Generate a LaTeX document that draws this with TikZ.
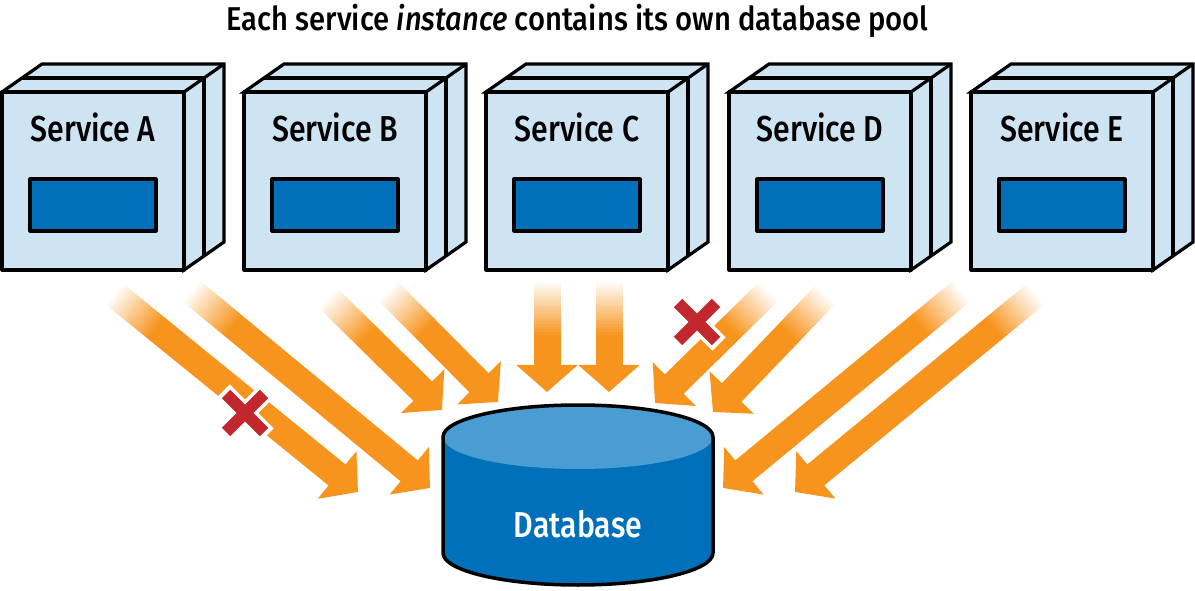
\documentclass[tikz,border=0pt]{standalone}
\usepackage{fontspec}
\setmainfont{Fira Sans}[UprightFont={* Medium}, ItalicFont={* Medium Italic}, FakeStretch=0.84]
\newfontfamily\headfont{Fira Sans}[UprightFont={* Medium}, ItalicFont={* Medium Italic}, FakeStretch=0.885]
\usetikzlibrary{arrows.meta,calc,backgrounds}
\definecolor{boxblue}{HTML}{CFE4F2}
\definecolor{poolblue}{HTML}{0070BA}
\definecolor{topblue}{HTML}{4A9DD2}
\definecolor{flow}{HTML}{F7941D}
\definecolor{cut}{HTML}{C1272D}
\tikzset{
  service/.style={draw=black, line width=3.2pt, fill=boxblue, minimum width=182pt,
    minimum height=178pt, inner sep=0pt, outer sep=0pt},
  pool/.style={draw=black, line width=3.2pt, fill=poolblue, minimum width=126pt,
    minimum height=52pt, inner sep=0pt},
  flowline/.style={flow, line width=27pt, -{Triangle[width=60pt,length=27pt]}},
  cutmark/.style={line width=12pt},
}
\begin{document}
\begin{tikzpicture}[x=1pt,y=1pt,line join=round]
  \useasboundingbox (0,0) rectangle (1195,590);
  \node[anchor=base,font=\headfont\fontsize{33}{36}\selectfont] (title) at (577.5,559)
    {Each service \textit{instance} contains its own database pool};

  % service instances
  \foreach \n/\x in {A/93,B/335,C/577,D/820,E/1062} {
    \node[service] (s\n) at (\x,409) {};
    \begin{scope}[on background layer]
      \draw[line width=3.2pt, fill=boxblue] (s\n.north west) -- ++(40,28)
        -- ($(s\n.north east)+(40,28)$) -- ($(s\n.south east)+(40,28)$)
        -- (s\n.south east) -- (s\n.north east) -- cycle;
      \draw[line width=3.2pt] (s\n.north east) -- ++(40,28);
      \draw[line width=3.2pt] ($(s\n.north west)+(20,14)$) -- ($(s\n.north east)+(20,14)$)
        -- ($(s\n.south east)+(20,14)$);
    \end{scope}
    \node[anchor=base,font=\fontsize{36}{40}\selectfont] (l\n) at ($(s\n.north)+(0,-50)$) {Service \n};
    \node[pool] (p\n) at ($(s\n.center)+(0,-24)$) {};
  }

  % database
  \fill[poolblue] (443,153) -- (443,37) arc[start angle=180, end angle=360,
    x radius=135, y radius=32] -- (713,153) -- cycle;
  \fill[topblue] (578,153) ellipse[x radius=135, y radius=32];
  \draw[line width=3.5pt] (443,153) arc[start angle=180, end angle=0,
    x radius=135, y radius=32] -- (713,37) arc[start angle=360, end angle=180,
    x radius=135, y radius=32] -- cycle;
  \node[anchor=base,white,font=\fontsize{36}{40}\selectfont] (db) at (578,53) {Database};

  % connections
  \coordinate (tA1) at (113,297); \coordinate (hA1) at (358,98);
  \coordinate (tA2) at (190,300); \coordinate (hA2) at (430,102);
  \coordinate (tB1) at (327,293); \coordinate (hB1) at (442,180);
  \coordinate (tB2) at (387,300); \coordinate (hB2) at (498,188);
  \coordinate (tC1) at (547,310); \coordinate (hC1) at (547,198);
  \coordinate (tC2) at (609,310); \coordinate (hC2) at (609,198);
  \coordinate (tD1) at (770,300); \coordinate (hD1) at (655,187);
  \coordinate (tD2) at (827,297); \coordinate (hD2) at (713,178);
  \coordinate (tE1) at (963,300); \coordinate (hE1) at (723,102);
  \coordinate (tE2) at (1037,297); \coordinate (hE2) at (795,98);
  \foreach \a in {A1,A2,B1,B2,C1,C2,D1,D2,E1,E2} {
    \foreach \i [evaluate=\i as \k using int(\i*5)] in {0,...,19}
      \draw[line width=27pt, color=flow!\k!white]
        ($(t\a)!\i*2.75pt!(h\a)$) -- ($(t\a)!\i*2.75pt+3.3pt!(h\a)$);
    \draw[flowline] ($(t\a)!55pt!(h\a)$) -- (h\a);
  }

  % broken connections
  \foreach \x/\y in {245/177,697/268} {
    \draw[cutmark,white,line width=19pt] (\x-22,\y-22) -- (\x+22,\y+22)
      (\x-22,\y+22) -- (\x+22,\y-22);
    \draw[cutmark,cut] (\x-19,\y-19) -- (\x+19,\y+19) (\x-19,\y+19) -- (\x+19,\y-19);
  }
\end{tikzpicture}
\end{document}
